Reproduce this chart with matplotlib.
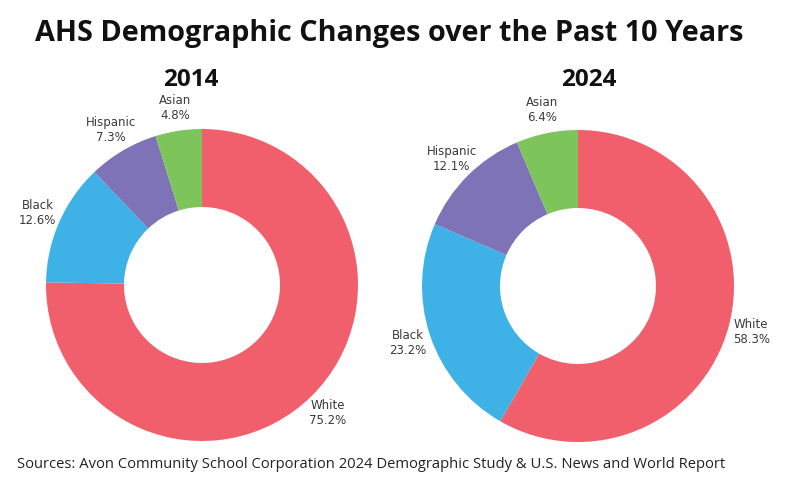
import matplotlib.pyplot as plt

# data
groups = ["White", "Black", "Hispanic", "Asian"]
share_2014 = [75.2, 12.6, 7.3, 4.8]
share_2024 = [58.3, 23.2, 12.1, 6.4]
colors = ["#F15F6C", "#3EB1E6", "#7E73B6", "#7DC55B"]

W, H = 789, 479
fig = plt.figure(figsize=(W / 100, H / 100), dpi=100)


def donut(cx, cy, r, values):
    # axes placed in pixel terms so the ring lands where the reference has it
    lim = 1.25
    size = 2 * lim * r
    ax = fig.add_axes([(cx - size / 2) / W, (H - cy - size / 2) / H, size / W, size / H])
    labels = [f"{g}\n{v}%" for g, v in zip(groups, values)]
    wedges, texts = ax.pie(values, labels=labels, colors=colors, startangle=90,
                           counterclock=False, radius=1,
                           wedgeprops=dict(width=0.5, linewidth=0),
                           labeldistance=1.15,
                           textprops=dict(fontsize=8.5, color="#3a3a3a",
                                          family="DejaVu Sans", linespacing=1.2))
    for t in texts:
        t.set_horizontalalignment("center")
        t.set_verticalalignment("center")
    ax.set_xlim(-lim, lim)
    ax.set_ylim(-lim, lim)
    ax.set_aspect("equal")
    ax.axis("off")
    return ax


donut(202, 285, 156, share_2014)
donut(578, 286, 156, share_2024)

fig.text(389 / W, 1 - 33 / H, "AHS Demographic Changes over the Past 10 Years",
         ha="center", va="center", fontsize=20.8, fontweight="bold",
         family="Open Sans", color="#111111")
fig.text(191 / W, 1 - 80 / H, "2014", ha="center", va="center", fontsize=17.5,
         fontweight="bold", family="Open Sans", color="#111111")
fig.text(589 / W, 1 - 80 / H, "2024", ha="center", va="center", fontsize=17.5,
         fontweight="bold", family="Open Sans", color="#111111")
fig.text(17 / W, 1 - 465 / H,
         "Sources: Avon Community School Corporation 2024 Demographic Study & U.S. News and World Report",
         ha="left", va="center", fontsize=10.65, family="Open Sans", color="#222222")

fig.savefig("out.png", dpi=100)
